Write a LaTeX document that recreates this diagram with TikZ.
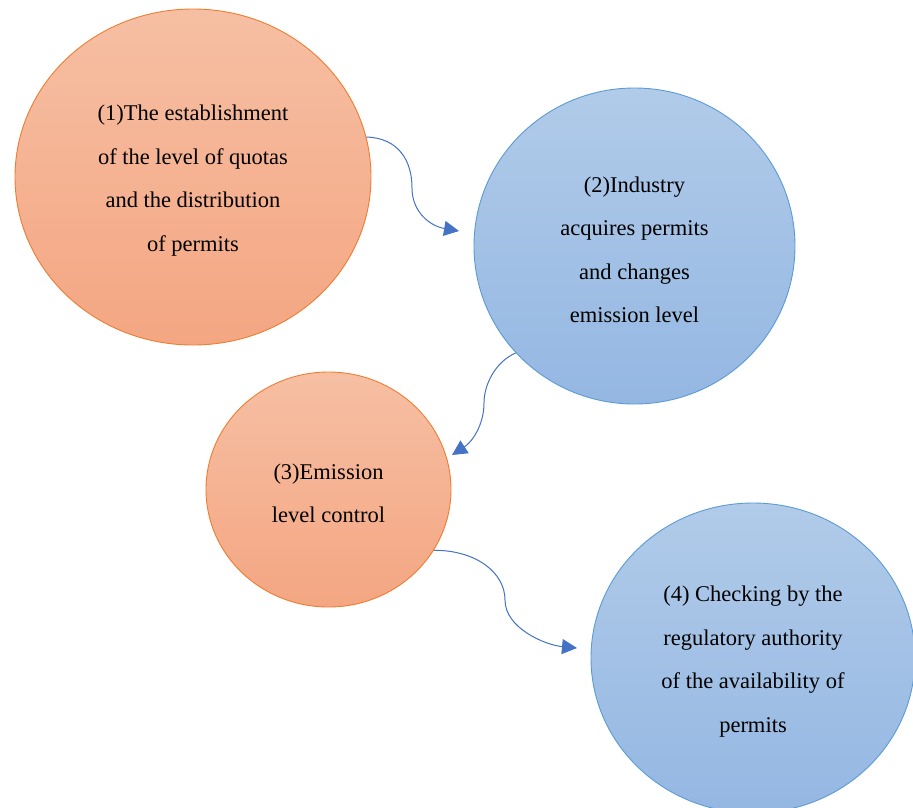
\documentclass[tikz,border=0pt]{standalone}
\usepackage{fontspec}
\setmainfont{Liberation Serif}
\usetikzlibrary{shapes.geometric,arrows.meta}
\definecolor{orTop}{HTML}{F6BFA3}
\definecolor{orBot}{HTML}{F4A682}
\definecolor{orBorder}{HTML}{ED7D31}
\definecolor{blTop}{HTML}{B1CBE9}
\definecolor{blBot}{HTML}{94B7E2}
\definecolor{blBorder}{HTML}{5B9BD5}
\definecolor{arrowBlue}{HTML}{4472C4}
\newcommand{\toppad}{\rule{0pt}{23pt}}
\begin{document}
\begin{tikzpicture}[x=1pt,y=-1pt,
  bubble/.style={ellipse, inner sep=0pt, align=center, text=black, line width=0.9pt,
    font=\fontsize{22.5}{43.5}\selectfont},
  orangeb/.style={bubble, draw=orBorder, top color=orTop, bottom color=orBot},
  blueb/.style={bubble, draw=blBorder, top color=blTop, bottom color=blBot},
  conn/.style={draw=arrowBlue, line width=1pt, -{Triangle[length=15pt,width=15pt]}}]
\useasboundingbox (0,0) rectangle (913,807);
\clip (0,0) rectangle (913,807);
\node[orangeb, minimum width=356pt, minimum height=336pt] (n1) at (193,177)
  {\toppad(1)The establishment\\of the level of quotas\\and the distribution\\of permits};
\node[blueb, minimum width=321pt, minimum height=316pt] (n2) at (634.5,246)
  {\toppad(2)Industry\\acquires permits\\and changes\\emission level};
\node[orangeb, minimum width=245pt, minimum height=235pt] (n3) at (328.5,489.5)
  {\toppad(3)Emission\\level control};
\node[blueb, minimum width=324pt, minimum height=310pt] (n4) at (753,658)
  {\toppad(4) Checking by the\\regulatory authority\\of the availability of\\permits};
\coordinate (t1) at (459,231);
\coordinate (t2) at (452,455);
\coordinate (t3) at (577,648);
\draw[conn] (n1.13) .. controls (398,138) and (412,160) .. (412,188)
  .. controls (412,212) and (430,226) .. (t1);
\draw[conn] (n2.222) .. controls (495,362) and (484,385) .. (484,403)
  .. controls (484,425) and (472,442) .. (t2);
\draw[conn] (n3.-30) .. controls (475,550) and (505,572) .. (505,600)
  .. controls (505,628) and (545,645) .. (t3);
\end{tikzpicture}
\end{document}
